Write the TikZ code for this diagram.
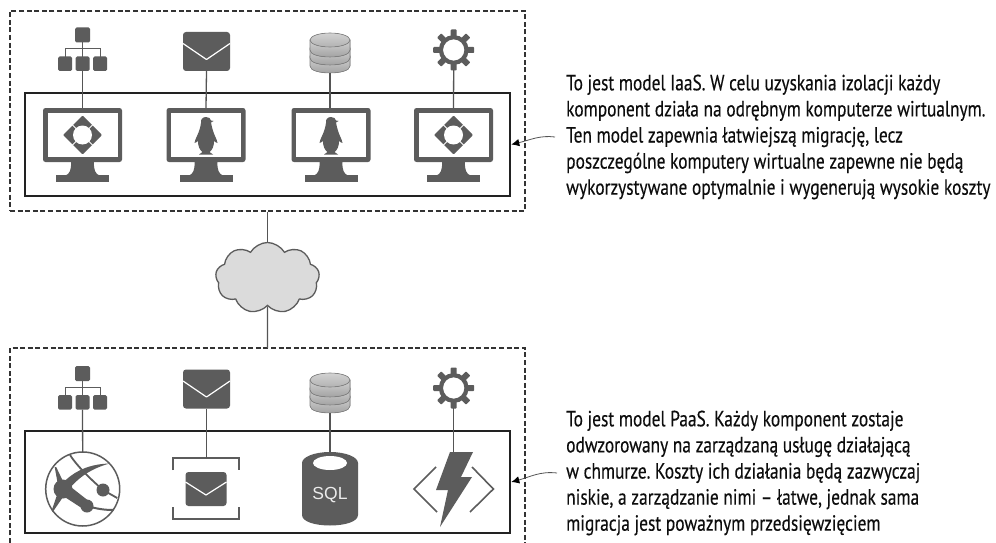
\documentclass[tikz,border=0pt]{standalone}
\usepackage{fontspec}
\setmainfont[FakeStretch=0.79,FakeBold=0.25]{PT Sans}
\newfontfamily\sqlfont{Liberation Sans}
\usetikzlibrary{shapes.symbols,arrows.meta}
\definecolor{icon}{HTML}{5C5C5C}
\definecolor{wire}{HTML}{555555}
\definecolor{boxline}{HTML}{222222}
\definecolor{dashline}{HTML}{333333}
\definecolor{dblight}{HTML}{D2D2D2}
\definecolor{dbdark}{HTML}{9C9C9C}
\tikzset{
  x=1pt,y=-1pt,
  dashbox/.style={draw=dashline,dash pattern=on 5pt off 2.6pt,line width=1.1pt},
  innerbox/.style={draw=boxline,line width=2.6pt,fill=white},
  wireline/.style={draw=wire,line width=1.3pt},
  callout/.style={draw=wire,line width=0.8pt,-{Latex[length=8pt,width=7.5pt,black]}},
  note/.style={anchor=west,align=left,inner sep=0pt,font=\fontsize{22}{26.1}\selectfont,text=black!95},
  orgchart/.pic={
    \fill[icon,rounded corners=1.5pt] (-7.5,-14.5) rectangle (7.5,0.5);
    \foreach \d in {-17.5,0,17.5}{\fill[icon,rounded corners=1.5pt] (\d-7,14.5) rectangle (\d+7,29);}
    \draw[icon,line width=1pt] (0,0) -- (0,15) (-17.5,15) -- (-17.5,7) -- (17.5,7) -- (17.5,15);
    \coordinate (-bot) at (0,29);
  },
  mailicon/.pic={
    \fill[icon,rounded corners=3pt] (-23.5,-19.5) rectangle (23.5,19.5);
    \draw[white,line width=1.2pt,line join=round] (-23.5,-8) -- (0,8) -- (23.5,-8);
    \coordinate (-bot) at (0,19.5);
  },
  dbicon/.pic={
    \foreach \b in {13,5,-3}{
      \fill[top color=dblight,bottom color=dbdark,draw=black!50,line width=0.6pt]
        (-20,\b-10) -- (-20,\b) .. controls (-20,\b+9.3) and (20,\b+9.3) .. (20,\b) -- (20,\b-10) -- cycle;
    }
    \fill[top color=dblight,bottom color=dblight!85!black,draw=black!50,line width=0.6pt] (0,-13) ellipse[x radius=20,y radius=7];
    \coordinate (-bot) at (0,20);
  },
  gearicon/.pic={
    \foreach \a in {0,45,...,315}{\fill[icon,rotate=\a,rounded corners=0.8pt] (-3,-20.5) rectangle (3,-12);}
    \draw[icon,line width=4.2pt] (0,0) circle[radius=12.8];
    \coordinate (-bot) at (0,20);
  },
  monitor/.pic={
    \fill[icon,rounded corners=2.5pt] (-39.5,0) rectangle (39.5,54);
    \fill[white] (-35,5) rectangle (35,48.5);
    \fill[icon] (-11.5,54) .. controls (-11,62) and (-13,66) .. (-17,67.5) -- (17,67.5) .. controls (13,66) and (11,62) .. (11.5,54) -- cycle;
    \fill[icon] (-26.5,67) rectangle (26.5,73.5);
    \coordinate (-top) at (0,0);
  },
  winmark/.pic={
    \fill[icon,rounded corners=1pt] (-19.5,0) -- (0,-19.5) -- (19.5,0) -- (0,19.5) -- cycle;
    \draw[white,line width=1pt] (-11,-11) -- (11,11) (-11,11) -- (11,-11);
    \fill[white] (0,0) circle[radius=9.5];
  },
  tuxmark/.pic={
    \fill[icon] (0,-18) .. controls (3,-18) and (4.5,-16.5) .. (5,-14.5) -- (7.5,-14) -- (5,-12.5)
      .. controls (6,-7) and (7.5,-2) .. (9,1) .. controls (10.5,3.5) and (11,6) .. (11.5,8)
      .. controls (9.5,7.5) and (8.5,6.5) .. (8,6) .. controls (8.2,11) and (6,15.5) .. (3.5,17)
      -- (7,19.5) -- (-7,19.5) -- (-3.5,17) .. controls (-6,15.5) and (-8.2,11) .. (-8,6)
      .. controls (-8.5,6.5) and (-9.5,7.5) .. (-11.5,8) .. controls (-11,6) and (-10.5,3.5) .. (-9,1)
      .. controls (-7,-3) and (-5.5,-8) .. (-5,-12) .. controls (-5.5,-15.5) and (-3.5,-18) .. (0,-18) -- cycle;
  },
  queueicon/.pic={
    \draw[icon,line width=1.5pt] (-33,12) -- (-33,0) -- (33,0) -- (33,12);
    \draw[icon,line width=1.5pt] (-33,49) -- (-33,61) -- (33,61) -- (33,49);
    \fill[icon,rounded corners=3pt] (-20.5,14) rectangle (20.5,48);
    \draw[white,line width=1.2pt,line join=round] (-20.5,24) -- (0,37) -- (20.5,24);
    \coordinate (-top) at (0,0);
  },
  globeicon/.pic={
    \draw[icon,line width=1.5pt,fill=white] (0,0) circle[radius=37];
    \fill[icon] (-19.7,0) circle[radius=9.5] (20.3,1) circle[radius=6.5] (4.3,17) circle[radius=6.5];
    \fill[icon] (-17,-9) .. controls (-6,-19) and (8,-25) .. (27,-25.5) .. controls (10,-21) and (-2,-13) .. (-11,-3) -- cycle;
    \draw[icon,line width=1.8pt] (-12.7,-34) .. controls (-5,-22) and (10,-8) .. (20.3,1) -- (34.5,9);
    \fill[icon] (-17,-6) -- (6,12) -- (2,21) -- (-18,8) -- cycle;
    \draw[icon,line width=2pt] (4.3,17) .. controls (15,20) and (22,21) .. (31,21);
    \fill[icon] (-28,-22) -- (-26.5,-22) -- (-16,0) -- (-24,0) -- cycle;
    \fill[icon] (-25,4) -- (-19,7) -- (-30,23) -- (-31,21.5) -- cycle;
    \coordinate (-top) at (0,-37);
  },
  sqlicon/.pic={
    \fill[icon] (-28,-27) -- (-28,25) .. controls (-28,39) and (28,39) .. (28,25) -- (28,-27) -- cycle;
    \fill[icon] (0,-27) ellipse[x radius=28,y radius=11];
    \fill[white] (0,-27) ellipse[x radius=17,y radius=7];
    \node[text=white!92!black,font=\sqlfont\fontsize{17.5}{20}\selectfont,inner sep=0pt] (-label) at (0,5) {SQL};
    \coordinate (-top) at (0,-38);
  },
  fnicon/.pic={
    \fill[icon] (-3.7,-37) -- (19.3,-37) -- (7.3,-12) -- (18.3,-12) -- (-13.7,38) -- (-5.7,1) -- (-17.7,1) -- cycle;
    \draw[icon,line width=1.6pt] (-17.7,-22) -- (-39.7,0) -- (-16.7,23);
    \draw[icon,line width=1.6pt] (18.3,-22) -- (39.7,0) -- (16.3,23);
    \coordinate (-top) at (0,-37);
  },
}
\begin{document}
\begin{tikzpicture}
\useasboundingbox[fill=white] (0,0) rectangle (996,543);

% outer dashed containers
\node[dashbox,minimum width=515pt,minimum height=200pt,inner sep=0pt] (iaas) at (267.5,111) {};
\draw[dashbox] (10,543) -- (10,348) -- (525,348) -- (525,543);
\coordinate (paastop) at (267.5,348);

% inner boxes
\node[innerbox,minimum width=485pt,minimum height=103pt,inner sep=0pt] (vmrow) at (267.5,144.5) {};
\node[innerbox,minimum width=485pt,minimum height=102pt,inner sep=0pt] (svcrow) at (267.5,482) {};

% cloud
\node[cloud,cloud puffs=9,cloud puff arc=120,aspect=1.45,draw=icon,line width=1.3pt,fill=black!14,
  minimum width=104pt,minimum height=71pt,inner sep=0pt] (net) at (267.5,278) {};
\draw[wireline] (iaas.south) -- (net);
\draw[wireline] (net) -- (paastop);

% top row
\pic (a1) at (82.5,42) {orgchart};
\pic (a2) at (206.5,51.5) {mailicon};
\pic (a3) at (330,53) {dbicon};
\pic (a4) at (453.7,50) {gearicon};
\pic (m1) at (82.5,108) {monitor};
\pic (m2) at (206,108) {monitor};
\pic (m3) at (331,108) {monitor};
\pic (m4) at (453.5,108) {monitor};
\pic at (82.5,135) {winmark};
\pic at (206,135) {tuxmark};
\pic at (331,135) {tuxmark};
\pic at (453.5,135) {winmark};
\draw[wireline] (a1-bot) -- (m1-top);
\draw[wireline] (a2-bot) -- (m2-top);
\draw[wireline] (a3-bot) -- (a3-bot |- m3-top);
\draw[wireline] (a4-bot) -- (m4-top);

% bottom row
\pic (b1) at (82.5,380.5) {orgchart};
\pic (b2) at (206.5,389) {mailicon};
\pic (b3) at (330,393) {dbicon};
\pic (b4) at (453.7,388) {gearicon};
\pic (s1) at (82.7,489) {globeicon};
\pic (s2) at (206,458) {queueicon};
\pic (s3) at (330,490) {sqlicon};
\pic (s4) at (453.7,489) {fnicon};
\draw[wireline] (b1-bot) -- (s1-top);
\draw[wireline] (b2-bot) -- (b2-bot |- s2-top);
\draw[wireline] (b3-bot) -- (s3-top);
\draw[wireline] (b4-bot) -- (s4-top);

% notes
\frenchspacing
\node[note] (iaasnote) at (566,137) {To jest model IaaS. W celu uzyskania izolacji każdy\\
komponent działa na odrębnym komputerze wirtualnym.\\
Ten model zapewnia łatwiejszą migrację, lecz\\
poszczególne komputery wirtualne zapewne nie będą\\
wykorzystywane optymalnie i wygenerują wysokie koszty};
\node[note] (paasnote) at (566,473) {To jest model PaaS. Każdy komponent zostaje\\
odwzorowany na zarządzaną usługę działającą\\
w chmurze. Koszty ich działania będą zazwyczaj\\
niskie, a zarządzanie nimi – łatwe, jednak sama\\
migracja jest poważnym przedsięwzięciem};
\draw[callout] ([xshift=-11pt]iaasnote.west) .. controls (540,135) and (530,140) .. (vmrow.east);
\draw[callout] ([xshift=-9pt]paasnote.west) .. controls (540,471) and (530,477) .. (svcrow.east);
\end{tikzpicture}
\end{document}
